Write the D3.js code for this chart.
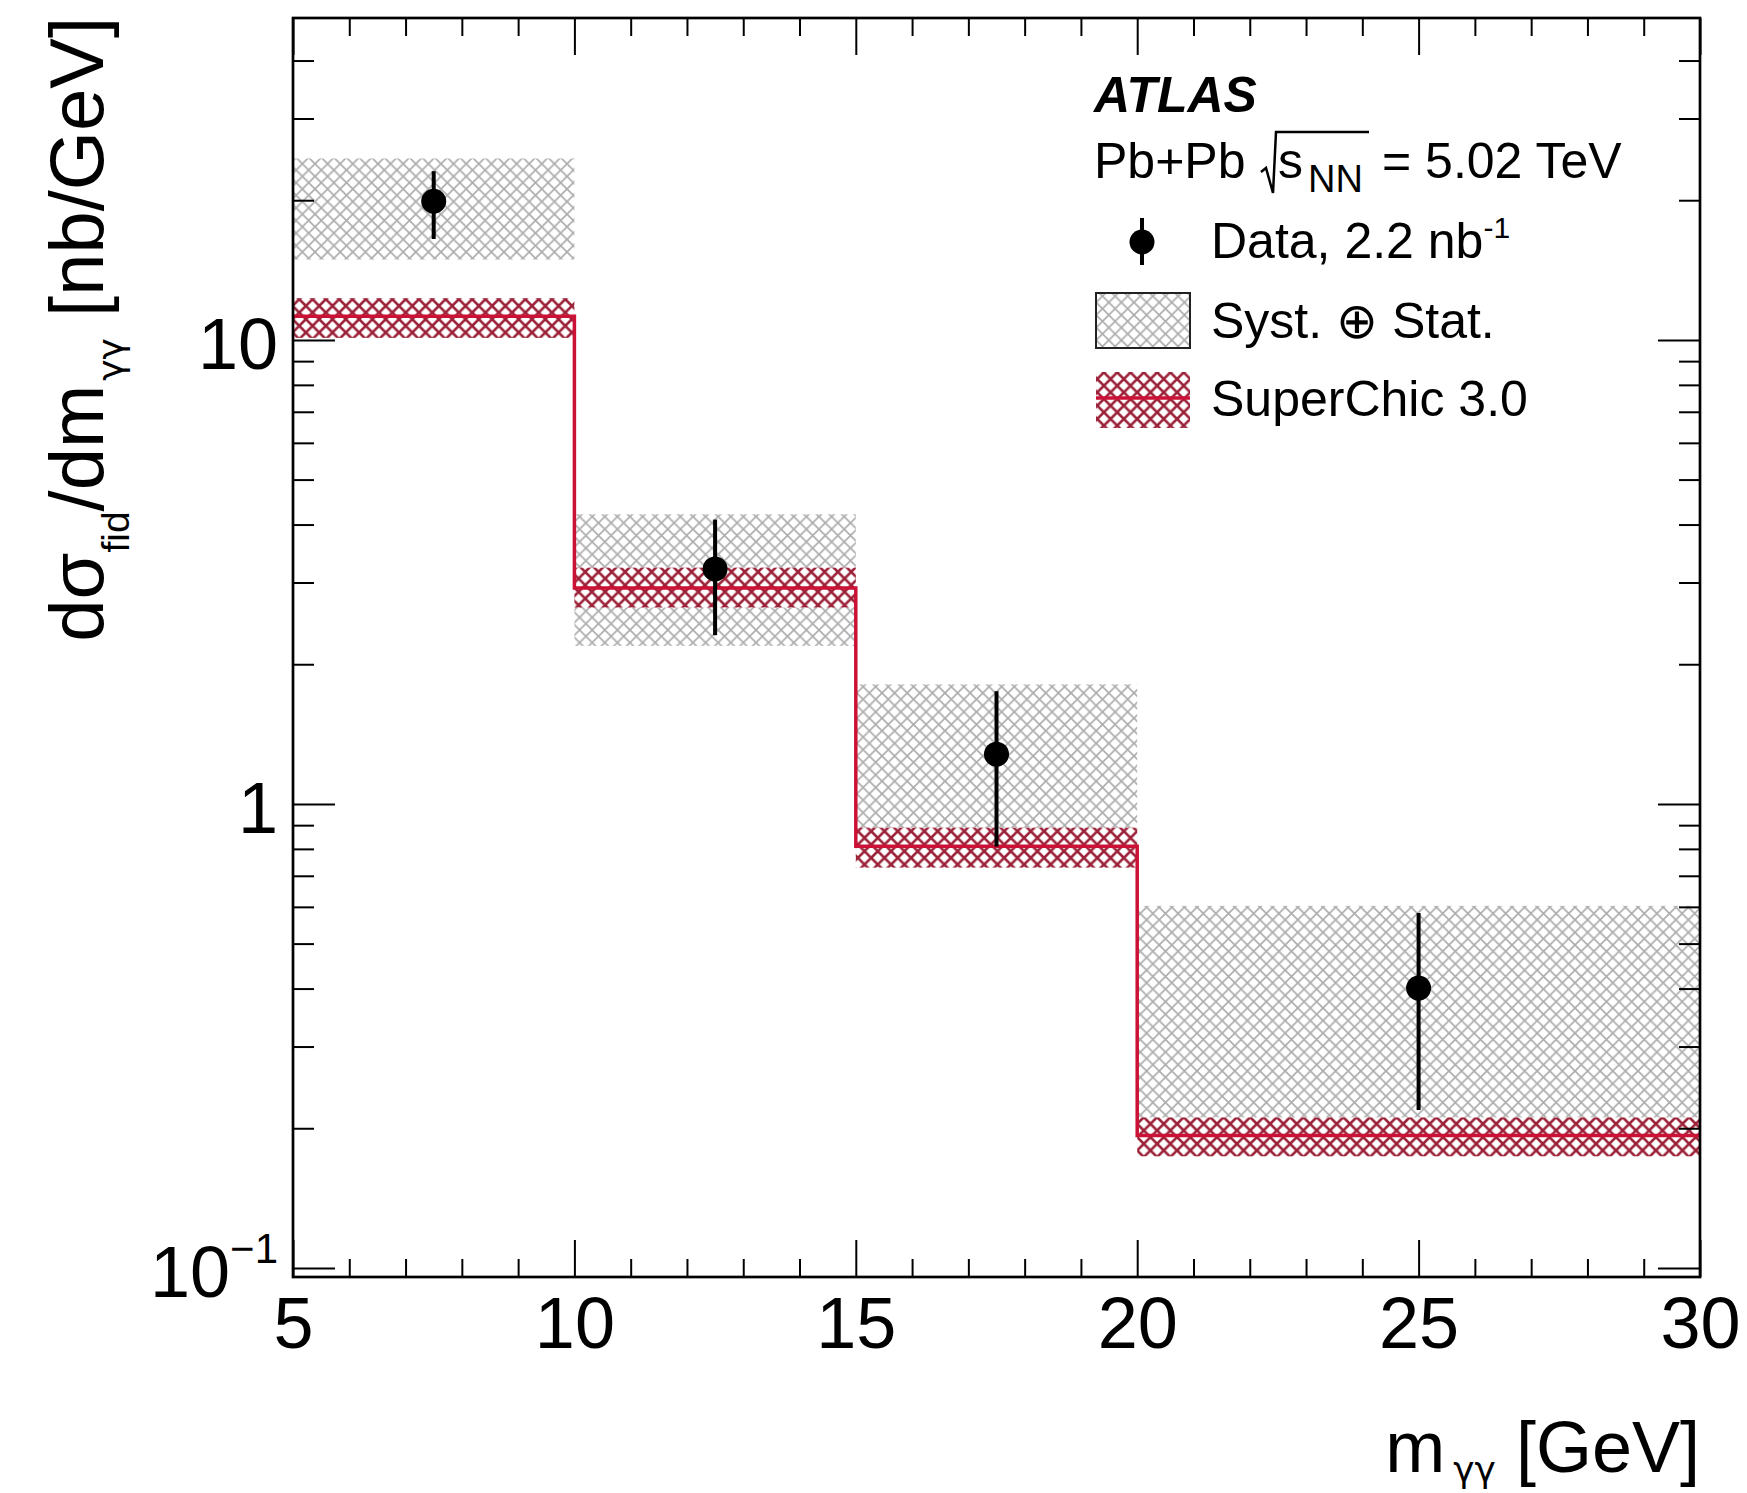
<!DOCTYPE html>
<html>
<head>
<meta charset="utf-8">
<script src="https://cdn.jsdelivr.net/npm/d3@7"></script>
<style>
  body { margin: 0; background: #fff; }
  text { font-family: "Liberation Sans", Arial, Helvetica, sans-serif; fill: #000; }
  .greek { font-family: "DejaVu Sans", "Noto Sans", sans-serif; }
</style>
</head>
<body>
<svg id="chart" width="1747" height="1493"></svg>
<script>
"use strict";

// m_yy bins [GeV]
var binEdges = [5, 10, 15, 20, 30];
var binCenters = [7.5, 12.5, 17.5, 25];

// measured dsigma/dm [nb/GeV] with error bar ends
var dataValues = [19.9, 3.21, 1.28, 0.401];
var dataErrHigh = [23.1, 4.10, 1.75, 0.582];
var dataErrLow = [16.5, 2.31, 0.81, 0.219];

// syst (+) stat band
var bandHigh = [24.6, 4.21, 1.81, 0.603];
var bandLow = [14.9, 2.19, 0.80, 0.19];

// SuperChic 3.0 prediction and its band
var superchic = [11.25, 2.92, 0.811, 0.193];
var superchicHigh = [12.3, 3.23, 0.889, 0.211];
var superchicLow = [10.1, 2.65, 0.729, 0.174];

// ticks
var xMajorTicks = [5, 10, 15, 20, 25, 30];
var xMinorTicks = [6, 7, 8, 9, 11, 12, 13, 14, 16, 17, 18, 19, 21, 22, 23, 24, 26, 27, 28, 29];
var yMajorTicks = [0.1, 1, 10];
var yMinorTicks = [0.2, 0.3, 0.4, 0.5, 0.6, 0.7, 0.8, 0.9, 2, 3, 4, 5, 6, 7, 8, 9, 20, 30, 40];

var padL = 293, padR = 1700, padT = 18, padB = 1277;

var svg = d3.select("#chart");

var x = d3.scaleLinear().domain([5, 30]).range([padL, padR]);
var y = d3.scaleLog().domain([0.0956, 49.4]).range([padB, padT]);

// hatch patterns
var defs = svg.append("defs");
function hatch(id, color, width, size) {
  var s = size;
  var p = defs.append("pattern")
    .attr("id", id)
    .attr("patternUnits", "userSpaceOnUse")
    .attr("width", s)
    .attr("height", s);
  p.append("path")
    .attr("d", "M" + (-s) + "," + (-s) + "L" + (2 * s) + "," + (2 * s) +
               "M" + (2 * s) + "," + (-s) + "L" + (-s) + "," + (2 * s))
    .attr("stroke", color)
    .attr("stroke-width", width)
    .attr("fill", "none");
}
hatch("grayHatch", "#adadad", 1.7, 12.6);
hatch("redHatch", "#9c2239", 2.6, 13.3);

var bins = binCenters.map(function(c, i) {
  return { lo: binEdges[i], hi: binEdges[i + 1], c: c, i: i };
});

// ---------- syst+stat band ----------
svg.append("g")
  .selectAll("rect")
  .data(bins)
  .enter()
  .append("rect")
  .attr("x", d => x(d.lo))
  .attr("width", d => x(d.hi) - x(d.lo))
  .attr("y", d => y(bandHigh[d.i]))
  .attr("height", d => y(bandLow[d.i]) - y(bandHigh[d.i]))
  .attr("fill", "url(#grayHatch)");

// ---------- SuperChic band ----------
var scBand = svg.append("g");
["#fff", "url(#redHatch)"].forEach(function(f) {
  scBand.append("g")
    .selectAll("rect")
    .data(bins)
    .enter()
    .append("rect")
    .attr("x", d => x(d.lo))
    .attr("width", d => x(d.hi) - x(d.lo))
    .attr("y", d => y(superchicHigh[d.i]))
    .attr("height", d => y(superchicLow[d.i]) - y(superchicHigh[d.i]))
    .attr("fill", f);
});

// SuperChic step line
var stepPts = binEdges.map(function(e, i) {
  return [e, superchic[Math.min(i, superchic.length - 1)]];
});
svg.append("path")
  .datum(stepPts)
  .attr("d", d3.line().x(d => x(d[0])).y(d => y(d[1])).curve(d3.curveStepAfter))
  .attr("fill", "none")
  .attr("stroke", "#cc1136")
  .attr("stroke-width", 3.5);

// ---------- data ----------
var pts = svg.append("g");
pts.selectAll("line")
  .data(bins)
  .enter()
  .append("line")
  .attr("x1", d => x(d.c))
  .attr("x2", d => x(d.c))
  .attr("y1", d => y(dataErrHigh[d.i]))
  .attr("y2", d => y(dataErrLow[d.i]))
  .attr("stroke", "#000")
  .attr("stroke-width", 4);
pts.selectAll("circle")
  .data(bins)
  .enter()
  .append("circle")
  .attr("cx", d => x(d.c))
  .attr("cy", d => y(dataValues[d.i]))
  .attr("r", 12.5)
  .attr("fill", "#000");

// ---------- axes ----------
function styleAxis(g) {
  g.select(".domain").remove();
  g.selectAll(".tick line").attr("stroke", "#000").attr("stroke-width", 2);
}

svg.append("g")
  .attr("transform", "translate(0," + padB + ")")
  .call(d3.axisBottom(x).tickValues(xMajorTicks).tickSize(-37).tickFormat(d3.format("d")))
  .call(styleAxis)
  .call(g => g.selectAll("text")
    .attr("y", 71).attr("dy", null)
    .attr("font-size", 72)
    .attr("font-family", "Liberation Sans, Arial, sans-serif")
    .attr("fill", "#000"));
svg.append("g")
  .attr("transform", "translate(0," + padB + ")")
  .call(d3.axisBottom(x).tickValues(xMinorTicks).tickSize(-18).tickFormat(""))
  .call(styleAxis);
svg.append("g")
  .attr("transform", "translate(0," + padT + ")")
  .call(d3.axisTop(x).tickValues(xMajorTicks).tickSize(-37).tickFormat(""))
  .call(styleAxis);
svg.append("g")
  .attr("transform", "translate(0," + padT + ")")
  .call(d3.axisTop(x).tickValues(xMinorTicks).tickSize(-18).tickFormat(""))
  .call(styleAxis);

var yLab = svg.append("g")
  .attr("transform", "translate(" + padL + ",0)")
  .call(d3.axisLeft(y).tickValues(yMajorTicks).tickSize(-42).tickPadding(15)
    .tickFormat(d => d < 1 ? "10" : String(d)))
  .call(styleAxis);
yLab.selectAll("text")
  .attr("y", 29).attr("dy", null)
  .attr("font-size", 72)
  .attr("font-family", "Liberation Sans, Arial, sans-serif")
  .attr("fill", "#000");
yLab.selectAll(".tick")
  .filter(d => d < 1)
  .select("text")
  .append("tspan")
  .attr("font-size", 42)
  .attr("dy", -34)
  .text("\u22121");

svg.append("g")
  .attr("transform", "translate(" + padL + ",0)")
  .call(d3.axisLeft(y).tickValues(yMinorTicks).tickSize(-21).tickFormat(""))
  .call(styleAxis);
svg.append("g")
  .attr("transform", "translate(" + padR + ",0)")
  .call(d3.axisRight(y).tickValues(yMajorTicks).tickSize(-42).tickFormat(""))
  .call(styleAxis);
svg.append("g")
  .attr("transform", "translate(" + padR + ",0)")
  .call(d3.axisRight(y).tickValues(yMinorTicks).tickSize(-21).tickFormat(""))
  .call(styleAxis);

// frame
svg.append("rect")
  .attr("x", padL).attr("y", padT)
  .attr("width", padR - padL).attr("height", padB - padT)
  .attr("fill", "none").attr("stroke", "#000").attr("stroke-width", 2.7);

// ---------- axis titles ----------
var xt = svg.append("text")
  .attr("x", padR).attr("y", 1472)
  .attr("text-anchor", "end")
  .attr("font-size", 72);
xt.append("tspan").text("m");
xt.append("tspan").attr("class", "greek").attr("font-size", 36).attr("dx", 8).attr("dy", 10).text("\u03b3\u03b3");
xt.append("tspan").attr("dy", -10).text("\u00a0[GeV]");

var yt = svg.append("text")
  .attr("transform", "rotate(-90)")
  .attr("x", -17).attr("y", 103)
  .attr("text-anchor", "end")
  .attr("font-size", 76);
yt.append("tspan").text("d\u03c3");
yt.append("tspan").attr("font-size", 39).attr("dy", 26).text("fid");
yt.append("tspan").attr("dy", -26).text("/dm");
yt.append("tspan").attr("class", "greek").attr("font-size", 36).attr("dx", 4).attr("dy", 20).text("\u03b3\u03b3");
yt.append("tspan").attr("dy", -20).text("\u00a0[nb/GeV]");

// ---------- labels and legend ----------
svg.append("text")
  .attr("x", 1094).attr("y", 112)
  .attr("font-size", 50)
  .attr("font-weight", "bold")
  .attr("font-style", "italic")
  .text("ATLAS");

var pb = svg.append("text").attr("y", 178).attr("font-size", 50);
pb.append("tspan").attr("x", 1094).text("Pb+Pb");
pb.append("tspan").attr("x", 1278).text("s");
pb.append("tspan").attr("x", 1308).attr("y", 192).attr("font-size", 38).text("NN");
pb.append("tspan").attr("x", 1382).attr("y", 178).text("= 5.02 TeV");
svg.append("path")
  .attr("d", "M1261,172L1266,168L1273,193L1276,132L1369,132")
  .attr("fill", "none")
  .attr("stroke", "#000")
  .attr("stroke-width", 2.5);

var legX = 1096, legW = 94, legTextX = 1211;

// data entry
svg.append("line")
  .attr("x1", 1142).attr("x2", 1142).attr("y1", 218).attr("y2", 265)
  .attr("stroke", "#000").attr("stroke-width", 4);
svg.append("circle").attr("cx", 1142).attr("cy", 242).attr("r", 12.5).attr("fill", "#000");
var dl = svg.append("text").attr("x", legTextX).attr("y", 258).attr("font-size", 50);
dl.append("tspan").text("Data, 2.2 nb");
dl.append("tspan").attr("font-size", 30).attr("dy", -20).text("-1");

// syst entry
svg.append("rect")
  .attr("x", legX).attr("y", 293).attr("width", legW).attr("height", 55)
  .attr("fill", "url(#grayHatch)")
  .attr("stroke", "#222").attr("stroke-width", 2);
svg.append("text").attr("x", legTextX).attr("y", 338).attr("font-size", 50)
  .text("Syst. \u2295 Stat.");

// superchic entry
svg.append("rect")
  .attr("x", legX).attr("y", 372).attr("width", legW).attr("height", 56)
  .attr("fill", "url(#redHatch)");
svg.append("line")
  .attr("x1", legX).attr("x2", legX + legW).attr("y1", 398).attr("y2", 398)
  .attr("stroke", "#cc1136").attr("stroke-width", 3.5);
svg.append("text").attr("x", legTextX).attr("y", 416).attr("font-size", 50)
  .text("SuperChic 3.0");
</script>
</body>
</html>
